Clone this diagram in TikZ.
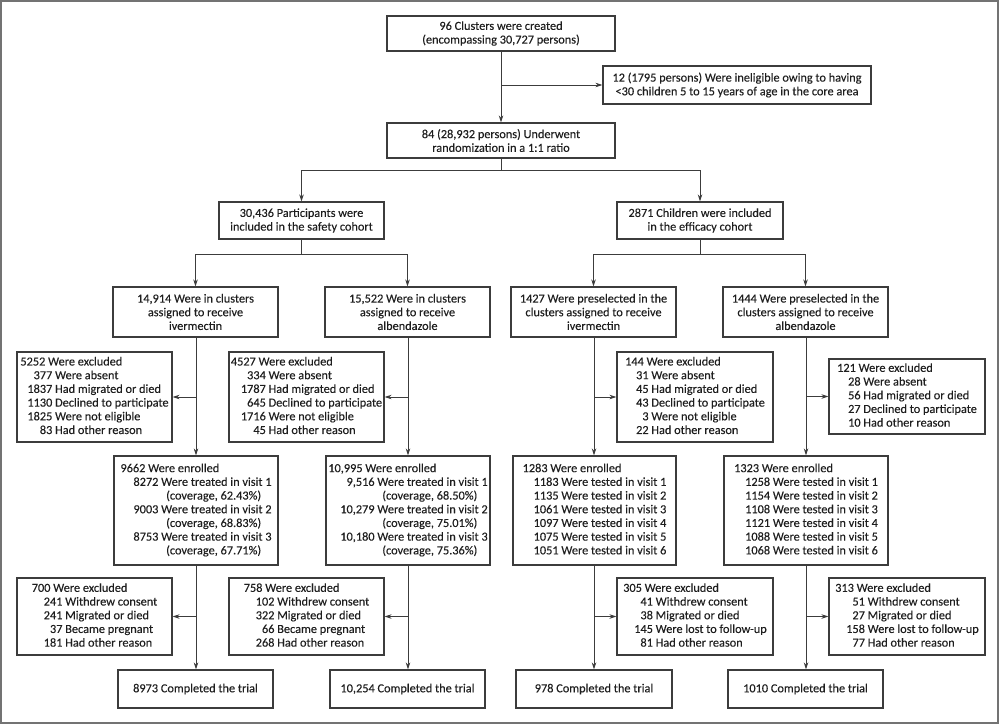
\documentclass[tikz,border=0pt]{standalone}
\usepackage{fontspec}
\setmainfont{Carlito}[FakeBold=0.15]
\usepackage{array}
\usetikzlibrary{arrows.meta}
\definecolor{ln}{RGB}{60,60,60}
\definecolor{tx}{RGB}{30,30,30}
\definecolor{fr}{RGB}{115,115,115}
\newcommand{\xlist}[3][10pt]{\begin{tabular}{@{}>{\hspace*{#1}}r@{\ }l@{}}\multicolumn{2}{@{}l@{}}{#2}\\#3\end{tabular}}
\tikzset{
  bx/.style={draw=ln, line width=1.2pt, text=tx, inner sep=0pt, align=center,
    font=\fontsize{12.3}{13.7}\selectfont},
  arr/.style={draw=ln, line width=1pt, -{Stealth[length=7pt,width=4.5pt]}},
  ln/.style={draw=ln, line width=1pt},
}
\begin{document}
\begin{tikzpicture}[x=1pt,y=-1pt]
\useasboundingbox (0,0) rectangle (1000,725);
\draw[fr, line width=1.8pt] (1,1) rectangle (998,723);

% top
\node[bx, minimum width=228pt, minimum height=35pt] (top) at (501,33.5) {96 Clusters were created\\(encompassing 30,727 persons)};
\node[bx, minimum width=268pt, minimum height=38pt] (inel) at (737,85) {12 (1795 persons) Were ineligible owing to having\\<30 children 5 to 15 years of age in the core area};
\node[bx, minimum width=228pt, minimum height=35pt] (rand) at (501,140.5) {84 (28,932 persons) Underwent\\randomization in a 1:1 ratio};

% cohorts
\node[bx, minimum width=165pt, minimum height=37pt] (safety) at (301.5,220.5) {30,436 Participants were\\included in the safety cohort};
\node[bx, minimum width=166pt, minimum height=37pt] (eff) at (700,220.5) {2871 Children were included\\in the efficacy cohort};

% arms
\node[bx, minimum width=165pt, minimum height=50pt] (sivm) at (195.5,312) {14,914 Were in clusters\\assigned to receive\\ivermectin};
\node[bx, minimum width=165pt, minimum height=50pt] (salb) at (407.5,312) {15,522 Were in clusters\\assigned to receive\\albendazole};
\node[bx, minimum width=165pt, minimum height=50pt] (eivm) at (593.5,312) {1427 Were preselected in the\\clusters assigned to receive\\ivermectin};
\node[bx, minimum width=165pt, minimum height=50pt] (ealb) at (805.5,312) {1444 Were preselected in the\\clusters assigned to receive\\albendazole};

% first exclusions
\node[bx, minimum width=155pt, minimum height=90pt] (sx1) at (94.5,397) {\xlist[7pt]{5252 Were excluded}{377&Were absent\\1837&Had migrated or died\\1130&Declined to participate\\1825&Were not eligible\\83&Had other reason}};
\node[bx, minimum width=155pt, minimum height=90pt] (sx2) at (306.5,397) {\xlist[10pt]{4527 Were excluded}{334&Were absent\\1787&Had migrated or died\\645&Declined to participate\\1716&Were not eligible\\45&Had other reason}};
\node[bx, minimum width=156pt, minimum height=90pt] (ex1) at (695,397) {\xlist[11pt]{144 Were excluded}{31&Were absent\\45&Had migrated or died\\43&Declined to participate\\3&Were not eligible\\22&Had other reason}};
\node[bx, minimum width=156pt, minimum height=75pt] (ex2) at (907,396.5) {\xlist[11pt]{121 Were excluded}{28&Were absent\\56&Had migrated or died\\27&Declined to participate\\10&Had other reason}};

% enrolled
\node[bx, minimum width=164pt, minimum height=109pt] (sen1) at (196,510.5) {\xlist[13pt]{9662 Were enrolled}{8272&Were treated in visit 1\\&\hspace*{5pt}(coverage, 62.43\%)\\9003&Were treated in visit 2\\&\hspace*{5pt}(coverage, 68.83\%)\\8753&Were treated in visit 3\\&\hspace*{5pt}(coverage, 67.71\%)}};
\node[bx, minimum width=164pt, minimum height=109pt] (sen2) at (408,510.5) {\xlist[12pt]{10,995 Were enrolled}{9,516&Were treated in visit 1\\&\hspace*{5pt}(coverage, 68.50\%)\\10,279&Were treated in visit 2\\&\hspace*{5pt}(coverage, 75.01\%)\\10,180&Were treated in visit 3\\&\hspace*{5pt}(coverage, 75.36\%)}};
\node[bx, minimum width=163pt, minimum height=109pt] (een1) at (594.5,510.5) {\xlist[11pt]{1283 Were enrolled}{1183&Were tested in visit 1\\1135&Were tested in visit 2\\1061&Were tested in visit 3\\1097&Were tested in visit 4\\1075&Were tested in visit 5\\1051&Were tested in visit 6}};
\node[bx, minimum width=164pt, minimum height=109pt] (een2) at (806,510.5) {\xlist[11pt]{1323 Were enrolled}{1258&Were tested in visit 1\\1154&Were tested in visit 2\\1108&Were tested in visit 3\\1121&Were tested in visit 4\\1088&Were tested in visit 5\\1068&Were tested in visit 6}};

% second exclusions
\node[bx, minimum width=155pt, minimum height=77pt] (sy1) at (94.5,616.5) {\xlist[12pt]{700 Were excluded}{241&Withdrew consent\\241&Migrated or died\\37&Became pregnant\\181&Had other reason}};
\node[bx, minimum width=155pt, minimum height=77pt] (sy2) at (306.5,616.5) {\xlist[12pt]{758 Were excluded}{102&Withdrew consent\\322&Migrated or died\\66&Became pregnant\\268&Had other reason}};
\node[bx, minimum width=156pt, minimum height=77pt] (ey1) at (695,616.5) {\xlist[11pt]{305 Were excluded}{41&Withdrew consent\\38&Migrated or died\\145&Were lost to follow-up\\81&Had other reason}};
\node[bx, minimum width=156pt, minimum height=77pt] (ey2) at (907,616.5) {\xlist[11pt]{313 Were excluded}{51&Withdrew consent\\27&Migrated or died\\158&Were lost to follow-up\\77&Had other reason}};

% completed
\node[bx, minimum width=155pt, minimum height=38pt] (sc1) at (195.5,689) {8973 Completed the trial};
\node[bx, minimum width=155pt, minimum height=38pt] (sc2) at (407.5,689) {10,254 Completed the trial};
\node[bx, minimum width=156pt, minimum height=38pt] (ec1) at (594,689) {978 Completed the trial};
\node[bx, minimum width=155pt, minimum height=38pt] (ec2) at (805.5,689) {1010 Completed the trial};

% connectors top
\draw[arr] (top.south) -- (rand.north);
\draw[arr] (top.south |- inel.west) -- (inel.west);
\coordinate (j1) at (501,170);
\draw[ln] (rand.south) -- (j1);
\draw[arr] (j1) -| (safety.north);
\draw[arr] (j1) -| (eff.north);
\coordinate (j2) at (301.5,254);
\coordinate (j3) at (700,254);
\draw[ln] (safety.south) -- (j2);
\draw[arr] (j2) -| (sivm.north);
\draw[arr] (j2) -| (salb.north);
\draw[ln] (eff.south) -- (j3);
\draw[arr] (j3) -| (eivm.north);
\draw[arr] (j3) -| (ealb.north);

% vertical chains
\coordinate (v1) at (196,0);
\coordinate (v2) at (408,0);
\coordinate (v3) at (594,0);
\coordinate (v4) at (806,0);
\draw[arr] (v1 |- sivm.south) -- (v1 |- sen1.north);
\draw[arr] (v1 |- sen1.south) -- (v1 |- sc1.north);
\draw[arr] (v2 |- salb.south) -- (v2 |- sen2.north);
\draw[arr] (v2 |- sen2.south) -- (v2 |- sc2.north);
\draw[arr] (v3 |- eivm.south) -- (v3 |- een1.north);
\draw[arr] (v3 |- een1.south) -- (v3 |- ec1.north);
\draw[arr] (v4 |- ealb.south) -- (v4 |- een2.north);
\draw[arr] (v4 |- een2.south) -- (v4 |- ec2.north);

% side branches
\draw[arr] (v1 |- sx1.east) -- (sx1.east);
\draw[arr] (v2 |- sx2.east) -- (sx2.east);
\draw[arr] (v3 |- ex1.west) -- (ex1.west);
\draw[arr] (v4 |- ex2.west) -- (ex2.west);
\draw[arr] (v1 |- sy1.east) -- (sy1.east);
\draw[arr] (v2 |- sy2.east) -- (sy2.east);
\draw[arr] (v3 |- ey1.west) -- (ey1.west);
\draw[arr] (v4 |- ey2.west) -- (ey2.west);
\end{tikzpicture}
\end{document}
